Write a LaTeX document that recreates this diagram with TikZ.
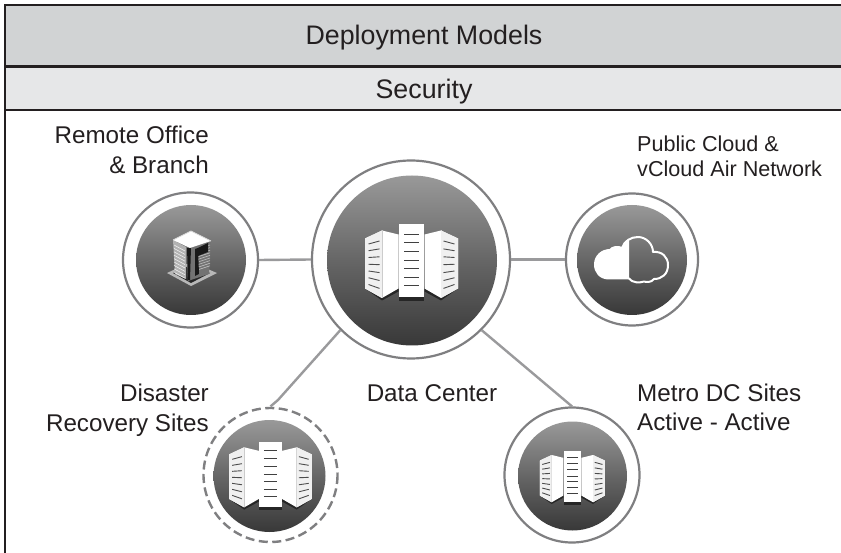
\documentclass[tikz,border=0pt]{standalone}
\usepackage{fontspec}
\setmainfont{Liberation Sans}
\definecolor{ink}{HTML}{231F20}
\definecolor{bandA}{HTML}{D1D3D4}
\definecolor{bandB}{HTML}{E6E7E8}
\definecolor{ringc}{HTML}{7F7F81}
\definecolor{linkc}{HTML}{9A9A9C}
\tikzset{
  x=1pt,y=-1pt,
  band/.style={fill=#1,draw=ink,line width=2.6pt},
  txth/.style={text=ink,inner sep=0pt,font=\fontsize{26.8}{30}\selectfont},
  txt/.style={text=ink,inner sep=0pt,font=\fontsize{24.2}{28}\selectfont},
  txts/.style={text=ink,inner sep=0pt,font=\fontsize{21.6}{25}\selectfont},
  ring/.style={circle,draw=ringc,fill=white,line width=2.2pt,inner sep=0pt,minimum size=#1},
  disk/.style={circle,top color=black!40,bottom color=black!78,middle color=black!60,inner sep=0pt,minimum size=#1},
  link/.style={draw=linkc,line width=2.4pt},
  pics/servers/.style={code={
    \fill[black!85] (-12,36) rectangle (13,41);
    \foreach \s in {1,-1}{
      \begin{scope}[shift={(0.5,0)},xscale=\s]
        \fill[black!85] (-46.5,28) -- (-29.5,40) -- (-13,31) -- (-13,26) -- cycle;
        \fill[white] (-46.5,-22) -- (-29.5,-30) -- (-13,-26) -- (-13,28) -- (-29.5,37.5) -- (-46.5,28) -- cycle;
        \draw[black!22,line width=.5pt] (-29.5,-30) -- (-29.5,37.5);
        \fill[black!6] (-46.5,-22) -- (-29.5,-30) -- (-29.5,37.5) -- (-46.5,28) -- cycle;
        \foreach \i in {0,...,6}{
          \draw[black!70,line width=.9pt] (-43,{-16.5+\i*6.75}) -- (-32,{-19.5+\i*7.9});
        }
      \end{scope}
    }
    \fill[white] (-12,-36) rectangle (13,37);
    \foreach \yy in {-26,-18,-9,0,8,17,25}{
      \draw[black!75,line width=.9pt] (-7,\yy) -- (8,\yy);
    }
  }},
  pics/cloudicon/.style={code={
    \def\cloudpath{(-3,19.5) -- (-23,19.5) .. controls (-32,19.5) and (-37,13) .. (-37,5.5)
      .. controls (-37,-3) and (-30,-9) .. (-22,-9)
      .. controls (-20,-12) and (-14,-13) .. (-10,-11)
      .. controls (-8,-18) and (-1,-22) .. (6,-22)
      .. controls (14,-22) and (21,-15) .. (21,-7)
      .. controls (30,-8) and (36,-2) .. (36,6)
      .. controls (36,15) and (30,20) .. (22,20)
      .. controls (19,24) and (14,23) .. (12,22.5)
      .. controls (8,24) and (0,24) .. (-3,19.5) -- cycle}
    \begin{scope}
      \clip (-40,-30) rectangle (-3,30);
      \fill[white] \cloudpath;
    \end{scope}
    \draw[white,line width=2pt,line join=round] \cloudpath;
  }},
  pics/toweric/.style={code={
    \fill[black!28] (-23,13) -- (1,2) -- (27,13) -- (1,26) -- cycle;
    \fill[black!85] (-17,13) -- (1,5) -- (20,13) -- (1,23) -- cycle;
    \fill[black!30] (-17,-20) -- (-4,-13) -- (-4,19) -- (-15,14) -- cycle;
    \fill[black!55] (-4,-13) -- (21,-19) -- (19,14) -- (-2,21) -- cycle;
    \foreach \i in {0,...,8}{
      \draw[white,line width=.6pt,opacity=.8] (-16,{-15+\i*3.4}) -- (-5,{-9+\i*3.4});
      \draw[white,line width=.6pt,opacity=.55] (8,{-11+\i*2.6}) -- (20,{-15+\i*2.6});
    }
    \fill[black!90] (-3,-12) -- (1,-13) -- (0,20) -- (-2,20) -- cycle;
    \fill[black!90] (5,-11) -- (8,-12) -- (9,14) -- (5,16) -- cycle;
    \fill[black!90] (8,-12) -- (18,-17) -- (18,-8) -- (8,-4) -- cycle;
    \fill[white] (-17,-20) -- (1,-29) -- (21,-19) -- (0,-12) -- cycle;
    \draw[black!15,line width=.8pt] (-17,-20) -- (1,-29) -- (21,-19);
  }},
}
\begin{document}
\begin{tikzpicture}
\useasboundingbox (0,0) rectangle (841,553);
\clip (0,0) rectangle (841,553);
\fill[white] (0,0) rectangle (841,553);
% frame and bands
\path[band=bandA] (5,5) rectangle (850,66.5);
\path[band=bandB] (5,66.5) rectangle (850,110);
\draw[ink,line width=2.6pt] (5,110) -- (5,560);
\node[txth,anchor=base] (title) at (424,45) {Deployment Models};
\node[txth,anchor=base] (sec) at (424,99) {Security};
% rings
\node[ring=198pt] (dc) at (411,259.5) {};
\node[ring=135pt] (rem) at (190.5,260) {};
\node[ring=132pt] (pub) at (632,259.5) {};
\node[ring=135pt,draw=none,fill=none] (dr) at (270.5,475) {};
\node[ring=135pt] (met) at (572,475) {};
\draw[ringc,line width=2.4pt,dash pattern=on 9pt off 4.5pt] (dr.center) circle[radius=67];
% disks
\node[disk=170pt] (dcd) at (412,260.5) {};
\node[disk=110pt] (remd) at (191,260) {};
\node[disk=110pt] (pubd) at (632,260) {};
\node[disk=112pt] (drd) at (269.5,476) {};
\node[disk=109pt] (metd) at (572.5,476) {};
% connectors
\coordinate (kink) at (278,400);
\draw[link] (rem.east) -- (dc.west);
\draw[link] (dc.east) -- (pub.west);
\draw[link] (dc.225) -- (kink) -- (dr.north);
\draw[link] (dc.-45) -- (met.north);
% icons
\pic at (411,260.5) {servers};
\pic[scale=.89] at (270,474) {servers};
\pic[scale=.70] at (572,476) {servers};
\pic at (190,260) {toweric};
\pic at (632,259) {cloudicon};
% labels
\node[txt,anchor=base east] (l1a) at (209,144) {Remote Office};
\node[txt,anchor=base east] (l1b) at (209,174) {\&~Branch};
\node[txts,anchor=base west] (l2a) at (637,152) {Public Cloud \&};
\node[txts,anchor=base west] (l2b) at (637,177) {vCloud Air Network};
\node[txt,anchor=base east] (l3a) at (209,401) {Disaster};
\node[txt,anchor=base east] (l3b) at (209,431) {Recovery Sites};
\node[txt,anchor=base] (l4) at (432,401) {Data Center};
\node[txt,anchor=base west] (l5a) at (637,401) {Metro DC Sites};
\node[txt,anchor=base west] (l5b) at (637,430) {Active - Active};
\end{tikzpicture}
\end{document}
